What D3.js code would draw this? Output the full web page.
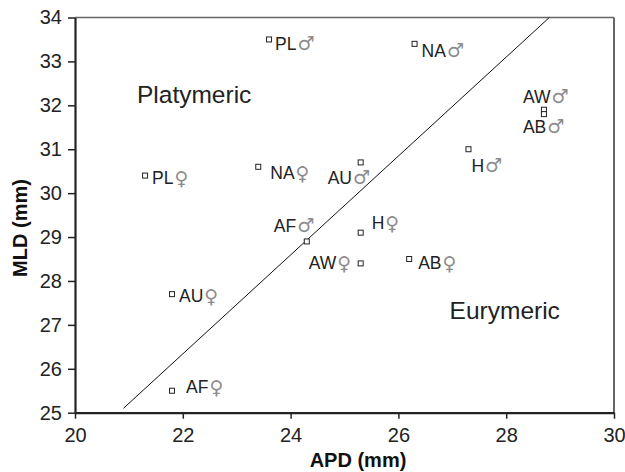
<!DOCTYPE html>
<html>
<head>
<meta charset="utf-8">
<script src="https://cdn.jsdelivr.net/npm/d3@7"></script>
<style>
  body { margin: 0; background: #fff; }
  svg { font-family: "Liberation Sans", Arial, sans-serif; }
</style>
</head>
<body>
<svg id="chart" width="625" height="472"></svg>
<script>
// data
const groups  = ["PL", "NA", "PL", "NA", "AU", "AF", "H", "AW", "AB", "H", "AW", "AB", "AU", "AF"];
const sexes   = ["m", "m", "f", "f", "m", "m", "f", "f", "f", "m", "m", "m", "f", "f"];
const apd     = [23.6, 26.3, 21.3, 23.4, 25.3, 24.3, 25.3, 25.3, 26.2, 27.3, 28.7, 28.7, 21.8, 21.8];
const mld     = [33.5, 33.4, 30.4, 30.6, 30.7, 28.9, 29.1, 28.4, 28.5, 31.0, 31.9, 31.8, 27.7, 25.5];
const lineApd = [20.9, 28.8];
const lineMld = [25.1, 34.0];
const regions = ["Platymeric", "Eurymeric"];
const regionApd = [21.15, 26.95];
const regionMld = [32.05, 27.13];
const xTicks = [20, 22, 24, 26, 28, 30];
const yTicks = [25, 26, 27, 28, 29, 30, 31, 32, 33, 34];

// label placement (pixels from the marker)
const labelDx = [6, 7, 7, 12, -33, -33, 11, -52, 9, 3, -21, -21, 7, 14];
const labelDy = [11, 13, 8, 12, 22, -9, -4, 6, 10, 23, -7, 19, 8, 2];

const svg = d3.select("#chart");
const m = { left: 75, right: 11, top: 17.5, bottom: 59.3 };
const W = 625, H = 472;

const x = d3.scaleLinear().domain([20, 30]).range([m.left, W - m.right]);
const y = d3.scaleLinear().domain([25, 34]).range([H - m.bottom, m.top]);

// top / right frame
svg.append("line").attr("x1", x(20)).attr("x2", x(30)).attr("y1", y(34)).attr("y2", y(34))
  .attr("stroke", "#666").attr("stroke-width", 1.3);
svg.append("line").attr("x1", x(30)).attr("x2", x(30)).attr("y1", y(34)).attr("y2", y(25))
  .attr("stroke", "#666").attr("stroke-width", 2);

const xAxis = svg.append("g")
  .attr("transform", `translate(0,${y(25)})`)
  .call(d3.axisBottom(x).tickValues(xTicks).tickSize(6).tickPadding(9).tickSizeOuter(0));
const yAxis = svg.append("g")
  .attr("transform", `translate(${x(20)},0)`)
  .call(d3.axisLeft(y).tickValues(yTicks).tickSize(7).tickPadding(6).tickSizeOuter(0));

[xAxis, yAxis].forEach(g => {
  g.select(".domain").attr("stroke", "#222").attr("stroke-width", 2.2);
  g.selectAll(".tick line").attr("stroke", "#222").attr("stroke-width", 1.5);
  g.selectAll(".tick text").attr("fill", "#222").style("font-size", "20px")
    .style("font-family", "'Liberation Sans', Arial, sans-serif");
});

// dividing line
svg.append("line")
  .attr("x1", x(lineApd[0])).attr("y1", y(lineMld[0]))
  .attr("x2", x(lineApd[1])).attr("y2", y(lineMld[1]))
  .attr("stroke", "#111").attr("stroke-width", 1);

// markers
const idx = d3.range(groups.length);
svg.append("g").selectAll("rect").data(idx).join("rect")
  .attr("x", i => x(apd[i]) - 2.5)
  .attr("y", i => y(mld[i]) - 2.5)
  .attr("width", 5).attr("height", 5)
  .attr("fill", "#fff").attr("stroke", "#222").attr("stroke-width", 1);

// point labels
const lab = svg.append("g").selectAll("text").data(idx).join("text")
  .attr("x", i => x(apd[i]) + labelDx[i])
  .attr("y", i => y(mld[i]) + labelDy[i])
  .attr("fill", "#222")
  .style("font-size", "17.5px");
lab.append("tspan").text(i => groups[i]);
lab.append("tspan")
  .attr("dx", 1)
  .attr("dy", i => sexes[i] === "m" ? 0 : 1)
  .attr("fill", "#8c8c8c")
  .style("font-family", "'DejaVu Sans', sans-serif")
  .style("font-size", "19px")
  .text(i => sexes[i] === "m" ? "\u2642" : "\u2640");

// region labels
svg.append("g").selectAll("text").data(regions).join("text")
  .attr("x", (d, i) => x(regionApd[i]))
  .attr("y", (d, i) => y(regionMld[i]))
  .attr("fill", "#222")
  .style("font-size", "24.5px")
  .text(d => d);

// axis titles
svg.append("text")
  .attr("x", 358).attr("y", 466.5)
  .attr("text-anchor", "middle")
  .attr("fill", "#111")
  .style("font-size", "20px").style("font-weight", "bold")
  .text("APD (mm)");
svg.append("text")
  .attr("transform", "translate(27,228) rotate(-90)")
  .attr("text-anchor", "middle")
  .attr("fill", "#111")
  .style("font-size", "20px").style("font-weight", "bold")
  .text("MLD (mm)");
</script>
</body>
</html>
